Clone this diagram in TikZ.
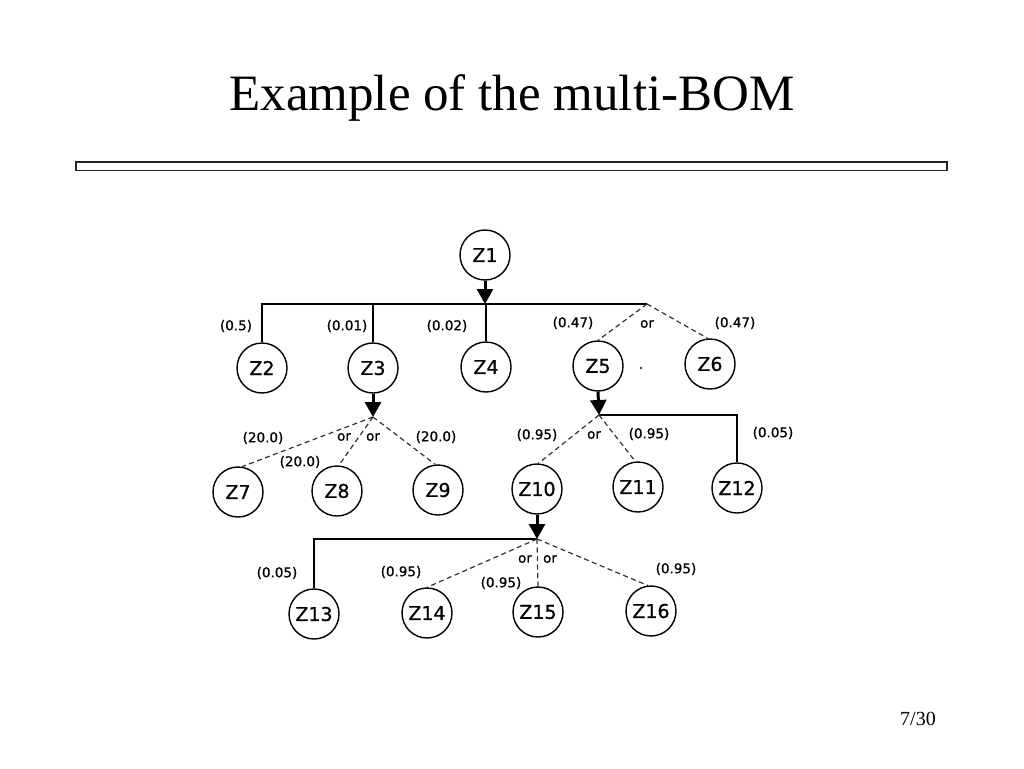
\documentclass[tikz,border=0pt]{standalone}
\usepackage{fontspec}
\setmainfont{Liberation Serif}
\newfontfamily\diagfont[FakeBold=0.8]{DejaVu Sans}
\usetikzlibrary{arrows.meta}
\begin{document}
\begin{tikzpicture}[x=1pt,y=-1pt,
  part/.style={circle,draw,line width=1.4pt,minimum size=50pt,inner sep=0pt,
    font=\diagfont\fontsize{19}{21}\selectfont},
  qty/.style={font=\diagfont\fontsize{13.5}{15}\selectfont,inner sep=0pt},
  orlbl/.style={font=\diagfont\fontsize{13.5}{15}\selectfont,inner sep=0pt},
  solidlink/.style={line width=2.3pt},
  orlink/.style={line width=1.2pt,dash pattern=on 5pt off 3.5pt,black!80},
  down/.style={line width=3pt,-{Triangle[width=16pt,length=15pt]}}]
\useasboundingbox (0,0) rectangle (1024,768);
% title
\node[anchor=base,font=\fontsize{51}{56}\selectfont,inner sep=0pt] (title) at (512,110) {Example of the multi-BOM};
\draw[line width=1.8pt,black!85] (76,162) rectangle (947,170.5);
\node[anchor=base,font=\fontsize{20}{22}\selectfont,inner sep=0pt] (pg) at (918,725) {7/30};
% nodes
\node[part] (Z1) at (485,255) {Z1};
\node[part] (Z2) at (262,368) {Z2};
\node[part] (Z3) at (373,368) {Z3};
\node[part] (Z4) at (486,367) {Z4};
\node[part] (Z5) at (598,366) {Z5};
\node[part] (Z6) at (710,364) {Z6};
\node[part] (Z7) at (238,492) {Z7};
\node[part] (Z8) at (337,491) {Z8};
\node[part] (Z9) at (438,490) {Z9};
\node[part] (Z10) at (537,489) {Z10};
\node[part] (Z11) at (638,487) {Z11};
\node[part] (Z12) at (737,488) {Z12};
\node[part] (Z13) at (314,614) {Z13};
\node[part] (Z14) at (427,613) {Z14};
\node[part] (Z15) at (538,612) {Z15};
\node[part] (Z16) at (651,611) {Z16};
% junctions
\coordinate (j1) at (485,304);
\coordinate (j1e) at (647,304);
\coordinate (j3) at (373,417);
\coordinate (j5) at (599,415);
\coordinate (j10) at (537,539);
% Z1 level
\draw[down] (Z1.south) -- (j1);
\draw[solidlink] (Z2.north) |- (j1e);
\draw[solidlink] (Z3.north) -- (Z3.north |- j1);
\draw[solidlink] (Z4.north) -- (Z4.north |- j1);
\draw[orlink] (j1e) -- (Z5.north);
\draw[orlink] (j1e) -- (Z6.95);
\node[qty] (l2) at (236,326) {(0.5)};
\node[qty] (l3) at (347,326) {(0.01)};
\node[qty] (l4) at (447,326) {(0.02)};
\node[qty] (l5) at (573,323) {(0.47)};
\node[orlbl] (o1) at (647,324) {or};
\node[qty] (l6) at (735,323) {(0.47)};
\fill (641,368) circle (1.2pt);
% Z3 level
\draw[down] (Z3.south) -- (j3);
\draw[orlink] (j3) -- (Z7.81);
\draw[orlink] (j3) -- (Z8.86);
\draw[orlink] (j3) -- (Z9.96);
\node[qty] (l7) at (263,438) {(20.0)};
\node[orlbl] (o2) at (344,437) {or};
\node[orlbl] (o3) at (373,437) {or};
\node[qty] (l9) at (436,437) {(20.0)};
\node[qty] (l8) at (300,462) {(20.0)};
% Z5 level
\draw[down] (Z5.south) -- (j5);
\draw[solidlink] (j5) -| (Z12.north);
\draw[orlink] (j5) -- (Z10.87);
\draw[orlink] (j5) -- (Z11.96);
\node[qty] (l10) at (537,435) {(0.95)};
\node[orlbl] (o4) at (594,435) {or};
\node[qty] (l11) at (649,434) {(0.95)};
\node[qty] (l12) at (773,433) {(0.05)};
% Z10 level
\draw[down] (Z10.south) -- (j10);
\draw[solidlink] (j10) -| (Z13.north);
\draw[orlink] (j10) -- (Z14.north);
\draw[orlink] (j10) -- (Z15.north);
\draw[orlink] (j10) -- (Z16.97);
\node[qty] (l13) at (277,573) {(0.05)};
\node[qty] (l14) at (401,572) {(0.95)};
\node[orlbl] (o5) at (525,559) {or};
\node[orlbl] (o6) at (550,559) {or};
\node[qty] (l15) at (501,583) {(0.95)};
\node[qty] (l16) at (676,569) {(0.95)};
\end{tikzpicture}
\end{document}
